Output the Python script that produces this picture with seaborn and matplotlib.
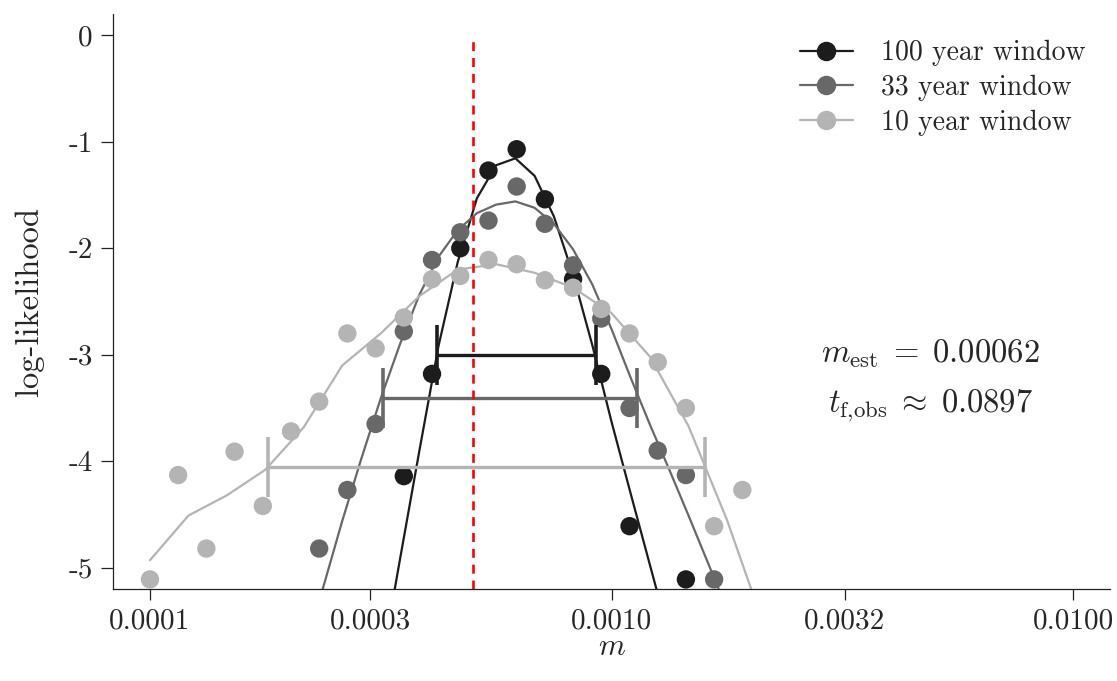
import numpy as np
import pandas as pd
import matplotlib
matplotlib.use("Agg")
import matplotlib.pyplot as plt
from matplotlib.lines import Line2D
import seaborn as sns

# ---------------------------------------------------------------------------
# Simulated log-likelihoods on the migration-rate grid, per window length
# ---------------------------------------------------------------------------
m_100 = [3.548e-4, 4.084e-4, 4.702e-4, 5.412e-4, 6.230e-4, 7.172e-4,
         8.254e-4, 9.499e-4, 1.094e-3, 1.449e-3]
ll_100 = [-4.14, -3.18, -2.00, -1.27, -1.07, -1.54, -2.29, -3.18, -4.61, -5.11]

m_33 = [2.326e-4, 2.677e-4, 3.082e-4, 3.548e-4, 4.084e-4, 4.702e-4, 5.412e-4,
        6.230e-4, 7.172e-4, 8.254e-4, 9.499e-4, 1.094e-3, 1.259e-3, 1.449e-3,
        1.668e-3]
ll_33 = [-4.82, -4.27, -3.65, -2.78, -2.11, -1.85, -1.74, -1.42, -1.77, -2.16,
         -2.66, -3.50, -3.90, -4.13, -5.11]

m_10 = [1.000e-4, 1.151e-4, 1.325e-4, 1.525e-4, 1.756e-4, 2.021e-4, 2.326e-4,
        2.677e-4, 3.082e-4, 3.548e-4, 4.084e-4, 4.702e-4, 5.412e-4, 6.230e-4,
        7.172e-4, 8.254e-4, 9.499e-4, 1.094e-3, 1.259e-3, 1.449e-3, 1.668e-3,
        1.920e-3]
ll_10 = [-5.11, -4.13, -4.82, -3.91, -4.42, -3.72, -3.44, -2.80, -2.94, -2.65,
         -2.29, -2.26, -2.11, -2.15, -2.30, -2.37, -2.57, -2.80, -3.07, -3.50,
         -4.61, -4.27]

# Smoothed likelihood surfaces
fit_m_100 = [3.162e-4, 3.481e-4, 3.831e-4, 4.217e-4, 4.642e-4, 5.109e-4,
             5.623e-4, 6.190e-4, 6.813e-4, 7.499e-4, 8.254e-4, 9.085e-4,
             1.000e-3, 1.101e-3, 1.212e-3, 1.334e-3]
fit_ll_100 = [-5.95, -4.92, -3.91, -2.92, -2.13, -1.53, -1.22, -1.155, -1.32,
              -1.70, -2.25, -2.91, -3.63, -4.31, -4.98, -5.65]

fit_m_33 = [2.154e-4, 2.371e-4, 2.610e-4, 2.873e-4, 3.162e-4, 3.481e-4,
            3.831e-4, 4.217e-4, 4.642e-4, 5.109e-4, 5.623e-4, 6.190e-4,
            6.813e-4, 7.499e-4, 8.254e-4, 9.085e-4, 1.000e-3, 1.101e-3,
            1.212e-3, 1.334e-3, 1.468e-3, 1.616e-3, 1.778e-3]
fit_ll_33 = [-5.85, -5.19, -4.56, -3.97, -3.41, -2.90, -2.44, -2.08, -1.83,
             -1.67, -1.59, -1.56, -1.62, -1.77, -2.01, -2.34, -2.76, -3.22,
             -3.66, -4.08, -4.51, -4.95, -5.39]

fit_m_10 = [1.000e-4, 1.212e-4, 1.468e-4, 1.778e-4, 2.154e-4, 2.610e-4,
            3.162e-4, 3.831e-4, 4.642e-4, 5.623e-4, 6.813e-4, 8.254e-4,
            1.000e-3, 1.212e-3, 1.468e-3, 1.778e-3, 2.154e-3]
fit_ll_10 = [-4.93, -4.51, -4.32, -4.08, -3.68, -3.10, -2.80, -2.45, -2.20,
             -2.15, -2.23, -2.37, -2.61, -3.02, -3.67, -4.55, -5.58]

# Likelihood intervals (drop of 1.92 from the maximum)
ci_level = [-3.00, -3.41, -4.05]
ci_lo = [4.179e-4, 3.194e-4, 1.800e-4]
ci_hi = [9.235e-4, 1.138e-3, 1.597e-3]

m_true = 0.0005
windows = ["100 year window", "33 year window", "10 year window"]
colors = ["#1c1c1c", "#686868", "#b4b4b4"]

x_ticks = [0.0001, 0.0003, 0.0010, 0.0032, 0.0100]
x_ticklabels = ["0.0001", "0.0003", "0.0010", "0.0032", "0.0100"]
y_ticks = [0, -1, -2, -3, -4, -5]
y_ticklabels = ["0", "-1", "-2", "-3", "-4", "-5"]

# ---------------------------------------------------------------------------
sns.set_style("ticks")
plt.rcParams.update({
    "font.family": "cmr10",
    "mathtext.fontset": "cm",
    "axes.formatter.use_mathtext": True,
    "axes.unicode_minus": False,
})

pts = pd.concat([
    pd.DataFrame({"m": m_100, "ll": ll_100, "window": windows[0]}),
    pd.DataFrame({"m": m_33, "ll": ll_33, "window": windows[1]}),
    pd.DataFrame({"m": m_10, "ll": ll_10, "window": windows[2]}),
], ignore_index=True)
fits = pd.concat([
    pd.DataFrame({"m": fit_m_100, "ll": fit_ll_100, "window": windows[0]}),
    pd.DataFrame({"m": fit_m_33, "ll": fit_ll_33, "window": windows[1]}),
    pd.DataFrame({"m": fit_m_10, "ll": fit_ll_10, "window": windows[2]}),
], ignore_index=True)
palette = dict(zip(windows, colors))

fig = plt.figure(figsize=(11.17, 6.81), dpi=100)
ax = fig.add_axes([0.1012, 0.1351, 0.8926, 0.8443])

sns.lineplot(data=fits, x="m", y="ll", hue="window", hue_order=windows,
             palette=palette, estimator=None, sort=True, lw=1.6,
             legend=False, ax=ax, zorder=2)
sns.scatterplot(data=pts, x="m", y="ll", hue="window", hue_order=windows,
                palette=palette, s=175, linewidth=0, legend=False, ax=ax,
                zorder=3)

for lev, lo, hi, c in zip(ci_level, ci_lo, ci_hi, colors):
    mid = np.sqrt(lo * hi)
    ax.errorbar([mid], [lev], xerr=[[mid - lo], [hi - mid]], fmt="none",
                ecolor=c, elinewidth=2.4, capsize=21.6, capthick=2.6,
                zorder=4)

ax.vlines(m_true, -5.2, -0.03, colors="#ff0000", linestyles=(0, (3.4, 2.6)),
          lw=1.9, zorder=5)

ax.set_xscale("log")
ax.set_xlim(8.318e-5, 1.2023e-2)
ax.set_ylim(-5.2, 0.2)
ax.set_xticks(x_ticks)
ax.set_xticklabels(x_ticklabels)
ax.xaxis.set_minor_locator(matplotlib.ticker.NullLocator())
ax.set_yticks(y_ticks)
ax.set_yticklabels(y_ticklabels)

ax.tick_params(axis="both", labelsize=21, width=0.9, color="#222222",
               pad=6)
ax.tick_params(axis="y", length=8.5)
ax.tick_params(axis="x", length=8)
for side in ("top", "right"):
    ax.spines[side].set_visible(False)
for side in ("left", "bottom"):
    ax.spines[side].set_linewidth(0.9)
    ax.spines[side].set_color("#222222")

ax.set_xlabel("$m$", fontsize=22, labelpad=-1)
ax.set_ylabel("log-likelihood", fontsize=23.5, labelpad=18)

ax.text(0.82, 0.409, r"$m_{\mathrm{est}} \;=\; 0.00062$",
        transform=ax.transAxes, ha="center", va="center", fontsize=23.5)
ax.text(0.82, 0.318, r"$t_{\mathrm{f{,}obs}} \;\approx\; 0.0897$",
        transform=ax.transAxes, ha="center", va="center", fontsize=23.5)

handles = [Line2D([], [], color=c, marker="o", markersize=13, lw=1.6)
           for c in colors]
ax.legend(handles, windows, loc="upper right", bbox_to_anchor=(0.975, 0.955),
          frameon=False, fontsize=20, borderpad=0, borderaxespad=0,
          handlelength=1.9, handletextpad=1.0, labelspacing=0.31)

fig.savefig("out.png", dpi=100)
